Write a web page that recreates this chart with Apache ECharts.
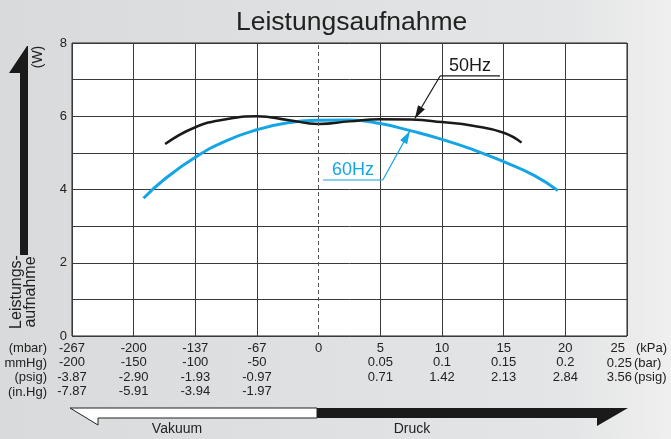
<!DOCTYPE html>
<html>
<head>
<meta charset="utf-8" />
<title>Leistungsaufnahme</title>
<script src="https://cdn.jsdelivr.net/npm/echarts@6/dist/echarts.min.js"></script>
<style>
html,body{margin:0;padding:0;}
#main{width:671px;height:439px;}
</style>
</head>
<body>
<div id="main"></div>
<script>
// tick label rows, one entry per vertical grid line
var rowKpa  = ['-267','-200','-137','-67','0','5','10','15','20','25'];
var rowBar  = ['-200','-150','-100','-50','','0.05','0.1','0.15','0.2','0.25'];
var rowPsig = ['-3.87','-2.90','-1.93','-0.97','','0.71','1.42','2.13','2.84','3.56'];
var rowInHg = ['-7.87','-5.91','-3.94','-1.97','','','','','',''];
var rowUnits = ['(mbar)','mmHg)','(psig)','(in.Hg)'];

// curves, x = position along the grid (0 = -267 mbar, 4 = 0, 9 = 25 kPa), y = W
var hz50X = [1.51,2.0,2.5,3.0,3.5,4.0,4.5,5.0,5.5,6.0,6.5,7.0,7.29];
var hz50Y = [5.24,5.70,5.92,6.0,5.90,5.79,5.86,5.92,5.91,5.84,5.74,5.55,5.28];
var hz60X = [1.16,1.5,2.0,2.5,3.0,3.5,4.0,4.5,5.0,5.5,6.0,6.5,7.0,7.5,7.88];
var hz60Y = [3.76,4.28,4.88,5.33,5.63,5.82,5.89,5.90,5.80,5.60,5.37,5.09,4.76,4.38,3.97];

function pairs(xs, ys) {
  var out = [];
  for (var i = 0; i < xs.length; i++) out.push([xs[i], ys[i]]);
  return out;
}

var FONT = 'Liberation Sans, Arial, sans-serif';
var gridColors = [];
for (var i = 0; i < 10; i++) gridColors.push(i === 4 ? 'rgba(0,0,0,0)' : '#3a3a3a');

var myChart = echarts.init(document.getElementById('main'));
var option = {
  backgroundColor: new echarts.graphic.LinearGradient(0, 0, 1, 0, [
    {offset: 0, color: '#d9dadb'}, {offset: 0.85, color: '#e4e5e6'}, {offset: 1, color: '#efefef'}
  ]),
  animation: false,
  title: {
    text: 'Leistungsaufnahme',
    left: 231, top: 4,
    textStyle: {fontFamily: FONT, fontSize: 26.5, fontWeight: 'normal', color: '#222'}
  },
  grid: {
    left: 72, right: 44, top: 43, bottom: 103,
    show: true, backgroundColor: '#fff', borderColor: '#222', borderWidth: 1
  },
  xAxis: {
    type: 'value', min: 0, max: 9, interval: 1,
    axisLine: {show: false}, axisTick: {show: false},
    splitLine: {show: true, lineStyle: {color: gridColors, width: 1}},
    axisLabel: {
      margin: 5, fontFamily: FONT, fontSize: 13, color: '#222', lineHeight: 14.5,
      verticalAlign: 'top',
      formatter: function (v) {
        var k = Math.round(v);
        if (k >= 9) return '';
        return [rowKpa[k], rowBar[k], rowPsig[k], rowInHg[k]].join('\n');
      }
    }
  },
  yAxis: {
    type: 'value', min: 0, max: 8, interval: 1,
    axisLine: {show: false}, axisTick: {show: false},
    splitLine: {show: true, lineStyle: {color: '#3a3a3a', width: 1}},
    axisLabel: {
      margin: 5, fontFamily: FONT, fontSize: 13, color: '#222',
      formatter: function (v) { return v % 2 === 0 ? String(v) : ''; }
    }
  },
  series: [
    {
      name: '50Hz', type: 'line', smooth: 0.5, symbol: 'none',
      data: pairs(hz50X, hz50Y), z: 4,
      lineStyle: {color: '#1a1a1a', width: 2.5},
      markLine: {
        silent: true, symbol: 'none', label: {show: false},
        lineStyle: {color: '#555', type: [4, 3], width: 1},
        data: [{xAxis: 4}]
      }
    },
    {
      name: '60Hz', type: 'line', smooth: 0.5, symbol: 'none',
      data: pairs(hz60X, hz60Y), z: 3,
      lineStyle: {color: '#14a6e4', width: 3}
    }
  ]
};
myChart.setOption(option);

function px(x, y) { return myChart.convertToPixel({gridIndex: 0}, [x, y]); }

function arrowHead(from, tip, color) {
  var dx = tip[0] - from[0], dy = tip[1] - from[1];
  var len = Math.sqrt(dx * dx + dy * dy);
  var ux = dx / len, uy = dy / len;
  var bx = tip[0] - ux * 13, by = tip[1] - uy * 13;
  return {
    type: 'polygon',
    shape: {points: [tip, [bx - uy * 4, by + ux * 4], [bx + uy * 4, by - ux * 4]]},
    style: {fill: color}
  };
}

function callout(text, color, lineL, lineR, tip, fromRight) {
  var a = px(lineL[0], lineL[1]), b = px(lineR[0], lineR[1]), t = px(tip[0], tip[1]);
  var start = fromRight ? b : a;
  return [
    {type: 'polyline', shape: {points: [b, a]}, style: {stroke: color, lineWidth: 1.2}},
    {type: 'line', shape: {x1: start[0], y1: start[1], x2: t[0], y2: t[1]}, style: {stroke: color, lineWidth: 1.2}},
    arrowHead(start, t, color),
    {type: 'text', x: (a[0] + b[0]) / 2, y: a[1] - 1,
     style: {text: text, fill: color, font: '18px ' + FONT, textAlign: 'center', textVerticalAlign: 'bottom'}}
  ];
}

var g = [];
g = g.concat(callout('50Hz', '#1a1a1a', [5.97, 7.10], [6.94, 7.10], [5.56, 5.94], false));
g = g.concat(callout('60Hz', '#14a6e4', [4.07, 4.26], [5.04, 4.26], [5.48, 5.60], true));

// left value arrow
g.push({type: 'polygon', shape: {points: [[9, 73], [27, 46], [28, 46], [28, 255], [20, 255], [20, 73]]},
        style: {fill: '#1a1a1a'}});
g.push({type: 'text', x: 38, y: 57, rotation: Math.PI / 2,
        style: {text: '(W)', fill: '#222', font: '14px ' + FONT, textAlign: 'center', textVerticalAlign: 'middle'}});
g.push({type: 'text', x: 24, y: 292, rotation: Math.PI / 2,
        style: {text: 'Leistungs-\naufnahme', fill: '#222', font: '16px ' + FONT, lineHeight: 14,
                textAlign: 'center', textVerticalAlign: 'middle'}});

// unit column on the left and last column on the right
var rowY = [348, 363, 377, 392];
for (var r = 0; r < rowUnits.length; r++) {
  g.push({type: 'text', x: 47, y: rowY[r],
          style: {text: rowUnits[r], fill: '#222', font: '13px ' + FONT, textAlign: 'right', textVerticalAlign: 'middle'}});
}
var lastNums = [rowKpa[9], rowBar[9], rowPsig[9]];
var lastUnits = ['(kPa)', '(bar)', '(psig)'];
var numRight = [625, 632, 632];
var unitLeft = [636, 634, 634];
for (var r = 0; r < 3; r++) {
  g.push({type: 'text', x: numRight[r], y: rowY[r],
          style: {text: lastNums[r], fill: '#222', font: '13px ' + FONT, textAlign: 'right', textVerticalAlign: 'middle'}});
  g.push({type: 'text', x: unitLeft[r], y: rowY[r],
          style: {text: lastUnits[r], fill: '#222', font: '13px ' + FONT, textAlign: 'left', textVerticalAlign: 'middle'}});
}

// Vakuum / Druck band
g.push({type: 'polygon', shape: {points: [[70, 408], [317, 408], [317, 418], [98, 418], [98, 425]]},
        style: {fill: '#fff', stroke: '#222', lineWidth: 1}});
g.push({type: 'polygon', shape: {points: [[317, 408], [628, 408], [597, 426], [597, 418], [317, 418]]},
        style: {fill: '#1a1a1a'}});
g.push({type: 'text', x: 177, y: 429,
        style: {text: 'Vakuum', fill: '#222', font: '14px ' + FONT, textAlign: 'center', textVerticalAlign: 'middle'}});
g.push({type: 'text', x: 412, y: 429,
        style: {text: 'Druck', fill: '#222', font: '14px ' + FONT, textAlign: 'center', textVerticalAlign: 'middle'}});

myChart.setOption({graphic: g});
</script>
</body>
</html>
